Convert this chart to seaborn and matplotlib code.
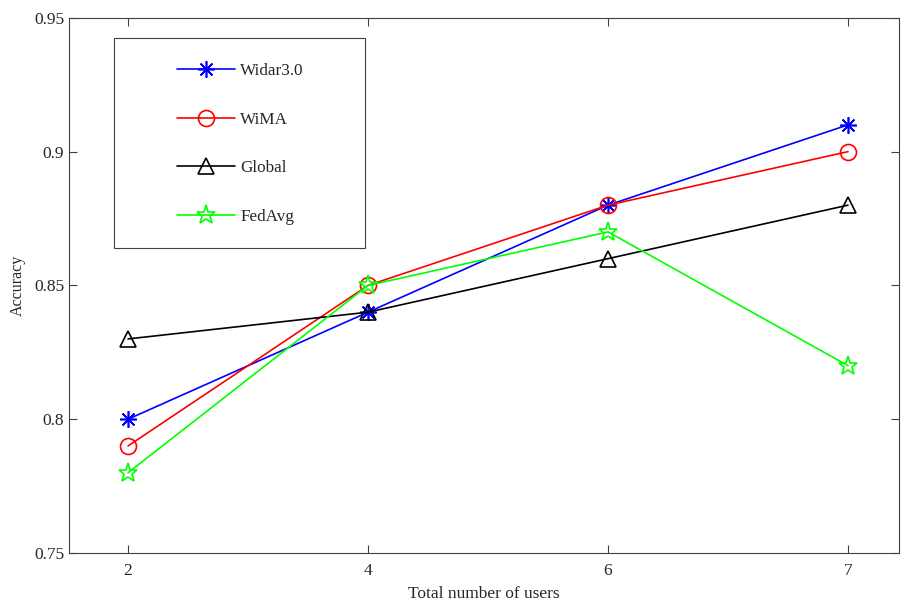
import pandas as pd
import seaborn as sns
import matplotlib
import matplotlib.pyplot as plt
from matplotlib.patches import Rectangle

# data
users = ["2", "4", "6", "7"]
widar = [0.80, 0.84, 0.88, 0.91]
wima = [0.79, 0.85, 0.88, 0.90]
global_acc = [0.83, 0.84, 0.86, 0.88]
fedavg = [0.78, 0.85, 0.87, 0.82]

sns.set_style('ticks')
matplotlib.rcParams['font.family'] = ['Liberation Serif', 'DejaVu Serif']
matplotlib.rcParams['axes.edgecolor'] = '#404040'
matplotlib.rcParams['xtick.color'] = '#404040'
matplotlib.rcParams['ytick.color'] = '#404040'

fig = plt.figure(figsize=(9.02, 6.01), dpi=100)
ax = fig.add_axes([0.0765, 0.0799, 0.9202, 0.8904])

pos = list(range(len(users)))
series = [
    ("Widar3.0", widar, "#0000ff", (8, 2, 0), 12),
    ("WiMA", wima, "#ff0000", "o", 11.5),
    ("Global", global_acc, "#000000", "^", 12),
    ("FedAvg", fedavg, "#00ff00", "*", 14),
]
for name, vals, col, mk, ms in series:
    sns.lineplot(x=pos, y=vals, ax=ax, color=col, marker=mk, markersize=ms,
                 markerfacecolor='none', markeredgecolor=col, markeredgewidth=1.2,
                 linewidth=1.2, label=name)

ax.set_xlim(-0.246, 3.2125)
ax.set_ylim(0.75, 0.95)
ax.set_xticks(pos)
ax.set_xticklabels(users)
ax.set_yticks([0.75, 0.8, 0.85, 0.9, 0.95])
ax.set_yticklabels(["0.75", "0.8", "0.85", "0.9", "0.95"])
ax.tick_params(direction='in', length=6, width=0.8, top=True, right=True,
               labelsize=12.5, labelcolor='#262626')
ax.tick_params(axis='x', pad=7)
for s in ax.spines.values():
    s.set_visible(True)
    s.set_linewidth(0.8)

ax.set_xlabel("Total number of users", fontsize=12.5, labelpad=5)
ax.set_ylabel("Accuracy", fontsize=11.5, labelpad=6)

# legend box like the MATLAB one
ax.add_patch(Rectangle((0.054, 0.570), 0.303, 0.393, transform=ax.transAxes,
                       fill=False, edgecolor='#404040', linewidth=0.8, zorder=5))
ax.legend(loc='upper left', bbox_to_anchor=(0.130, 0.915), frameon=False,
          fontsize=12.3, borderpad=0, borderaxespad=0, handlelength=3.4,
          handletextpad=0.3, labelspacing=1.9)

fig.savefig("out.png", dpi=100)
